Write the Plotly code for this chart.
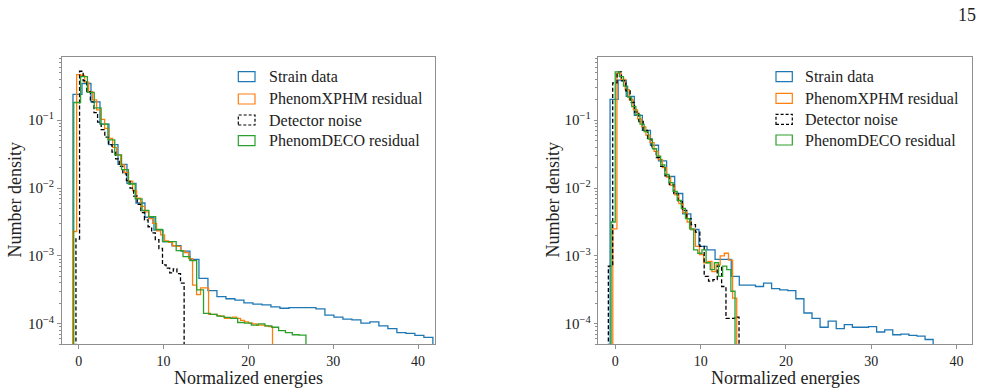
import numpy as np
import plotly.graph_objects as go

# ---------------- data (log10 of number density per bin) -------------
series_names = ["Strain data", "PhenomXPHM residual", "Detector noise", "PhenomDECO residual"]

# Left panel: (first bin edge, last bin edge) and per-bin log10 densities
left_strain_range = (-0.67, 41.75)
left_strain_log10 = [-0.62, -0.46, -0.73, -1.06, -1.36, -1.65, -1.93, -2.22, -2.43, -2.62,
                     -2.79, -2.85, -2.93, -3.05, -3.33, -3.51, -3.60, -3.63, -3.65, -3.69,
                     -3.71, -3.72, -3.75, -3.77, -3.76, -3.76, -3.76, -3.78, -3.87, -3.90,
                     -3.93, -3.94, -3.99, -3.97, -4.03, -4.07, -4.13, -4.14, -4.17, -4.20]
left_xphm_range = (-0.71, 22.85)
left_xphm_log10 = [-2.64, -0.33, -0.34, -0.44, -0.58, -0.70, -0.85, -0.99, -1.12, -1.27,
                   -1.40, -1.51, -1.66, -1.77, -1.90, -2.04, -2.15, -2.27, -2.35, -2.45,
                   -2.52, -2.63, -2.69, -2.78, -2.80, -2.85, -2.86, -2.92, -2.95, -3.04,
                   -3.43, -3.57, -3.47, -3.47, -3.86, -3.86, -3.88, -3.89, -3.92, -3.92,
                   -3.90, -3.92, -3.95, -3.97, -3.99, -4.00, -4.02, -4.02, -4.03, -4.04]
left_noise_range = (-0.32, 12.43)
left_noise_log10 = [-2.75, -0.28, -0.42, -0.58, -0.73, -0.89, -1.03, -1.14, -1.25, -1.36,
                    -1.47, -1.57, -1.68, -1.79, -1.89, -2.00, -2.12, -2.24, -2.36, -2.47,
                    -2.57, -2.66, -2.76, -2.89, -3.13, -3.18, -3.25, -3.19, -3.26, -3.40]
left_deco_range = (-0.58, 26.79)
left_deco_log10 = [-0.74, -0.36, -0.59, -0.82, -1.06, -1.29, -1.51, -1.73, -1.94, -2.16,
                   -2.33, -2.42, -2.61, -2.79, -2.79, -2.92, -3.01, -3.07, -3.50, -3.845,
                   -3.86, -3.885, -3.905, -3.92, -3.98, -3.99, -4.02, -4.00, -4.03, -4.05,
                   -4.10, -4.13, -4.16, -4.165]

# Right panel
right_strain_range = (-0.62, 37.26)
right_strain_log10 = [-0.695, -0.41, -0.65, -0.93, -1.15, -1.37, -1.60, -1.83, -2.08, -2.38,
                      -2.61, -2.86, -2.91, -3.05, -3.05, -3.30, -3.43, -3.43, -3.45, -3.40,
                      -3.48, -3.50, -3.51, -3.63, -3.84, -3.92, -4.05, -3.96, -4.07, -4.01,
                      -4.05, -4.05, -4.04, -4.12, -4.09, -4.16, -4.15, -4.17, -4.18, -4.23]
right_xphm_range = (-0.30, 14.23)
right_xphm_log10 = [-2.60, -0.31, -0.40, -0.55, -0.70, -0.85, -0.98, -1.10, -1.22, -1.33,
                    -1.46, -1.58, -1.70, -1.84, -1.96, -2.10, -2.23, -2.36, -2.50, -2.61,
                    -2.86, -2.98, -3.10, -3.08, -3.23, -3.13, -3.00, -2.96, -3.06, -3.62]
right_noise_range = (-0.82, 14.50)
right_noise_log10 = [-3.15, -0.45, -0.29, -0.42, -0.57, -0.74, -0.88, -1.02, -1.15, -1.28,
                     -1.42, -1.55, -1.68, -1.82, -1.95, -2.08, -2.20, -2.33, -2.45, -2.54,
                     -2.65, -2.86, -3.30, -3.37, -3.35, -3.15, -3.45, -3.92, -3.92, -3.90]
right_deco_range = (-0.50, 14.03)
right_deco_log10 = [-2.50, -0.29, -0.36, -0.50, -0.66, -0.80, -0.92, -1.06, -1.17, -1.28,
                    -1.42, -1.53, -1.66, -1.80, -1.92, -2.05, -2.18, -2.30, -2.45, -2.60,
                    -2.91, -2.96, -2.91, -3.10, -3.20, -3.10, -3.30, -3.15, -3.20, -3.52]

x_tick_values = [0, 10, 20, 30, 40]
y_tick_values = [1e-4, 1e-3, 1e-2, 1e-1]
y_tick_labels = ["10<sup>−4</sup>", "10<sup>−3</sup>", "10<sup>−2</sup>", "10<sup>−1</sup>"]
x_title = "Normalized energies"
y_title = "Number density"
page_number = "15"

# ---------------- styling ----------------
W, H = 982, 392
FONT = "Liberation Serif, DejaVu Serif, Times New Roman, serif"
colors = ["#1f77b4", "#ff7f0e", "#000000", "#2ca02c"]
dashes = ["solid", "solid", "4px,2.2px", "solid"]
SPINE = "#8f8f8f"
TXT = "#222222"
FLOOR = 1e-7  # histogram steps drop below the visible axis range


def px(x):
    return x / W


def py(y):
    return 1 - y / H


def step_xy(rng, logvals):
    edges = np.linspace(rng[0], rng[1], len(logvals) + 1)
    dens = [10 ** v for v in logvals]
    xs = [edges[0]] + list(edges[:-1]) + [edges[-1], edges[-1]]
    ys = [FLOOR] + dens + [dens[-1], FLOOR]
    return xs, ys


fig = go.Figure()

panels = [
    ("x", "y", [(left_strain_range, left_strain_log10), (left_xphm_range, left_xphm_log10),
                (left_noise_range, left_noise_log10), (left_deco_range, left_deco_log10)]),
    ("x2", "y2", [(right_strain_range, right_strain_log10), (right_xphm_range, right_xphm_log10),
                  (right_noise_range, right_noise_log10), (right_deco_range, right_deco_log10)]),
]

for xa, ya, series in panels:
    for i, (rng, vals) in enumerate(series):
        xs, ys = step_xy(rng, vals)
        fig.add_trace(go.Scatter(
            x=xs, y=ys, mode="lines", line_shape="hv",
            line=dict(color=colors[i], width=1.3, dash=dashes[i]),
            name=series_names[i], showlegend=False, xaxis=xa, yaxis=ya,
            hoverinfo="skip"))

# minor tick positions for log axis
minor_vals = [m * 10.0 ** k for k in range(-5, 0) for m in range(2, 10)]

xaxis_common = dict(
    range=[-2.0, 42.0], tickvals=x_tick_values, ticks="outside", ticklen=3.5, tickwidth=1,
    tickcolor=SPINE, showline=True, linecolor=SPINE, linewidth=1.2, mirror=True,
    showgrid=False, zeroline=False, tickfont=dict(family=FONT, size=14, color=TXT),
)
yaxis_common = dict(
    type="log", range=[-4.301, -0.07], tickvals=y_tick_values, ticktext=y_tick_labels,
    ticks="outside", ticklen=3.5, tickwidth=1, tickcolor=SPINE, showline=True,
    linecolor=SPINE, linewidth=1.2, mirror=True, showgrid=False, zeroline=False,
    tickfont=dict(family=FONT, size=15, color=TXT),
    minor=dict(tickmode="array", tickvals=minor_vals, ticks="outside", ticklen=2,
               tickwidth=0.8, tickcolor=SPINE, showgrid=False),
)

left_dom = [px(61.7), px(435.0)]
right_dom = [px(598.3), px(972.3)]
y_dom = [py(344.3), py(57.0)]

fig.update_layout(
    width=W, height=H, margin=dict(l=0, r=0, t=0, b=0),
    font=dict(family=FONT, size=15, color=TXT),
    paper_bgcolor="white", plot_bgcolor="white", showlegend=False,
    xaxis=dict(domain=left_dom, anchor="y", **xaxis_common),
    yaxis=dict(domain=y_dom, anchor="x", **yaxis_common),
    xaxis2=dict(domain=right_dom, anchor="y2", **xaxis_common),
    yaxis2=dict(domain=y_dom, anchor="x2", **yaxis_common),
)
fig.layout.xaxis2.range = [-2.0, 41.85]

annotations = []
shapes = []

# axis titles
for cx in [(61.7 + 435.0) / 2, (598.3 + 972.3) / 2]:
    annotations.append(dict(text=x_title, x=px(cx), y=py(378), xref="paper", yref="paper",
                            showarrow=False, xanchor="center", yanchor="middle",
                            font=dict(family=FONT, size=18, color=TXT)))
for cx in [14, 552]:
    annotations.append(dict(text=y_title, x=px(cx), y=py(200.5), xref="paper", yref="paper",
                            showarrow=False, textangle=-90, xanchor="center", yanchor="middle",
                            font=dict(family=FONT, size=18, color=TXT)))

# page number
annotations.append(dict(text=page_number, x=px(967), y=py(15), xref="paper", yref="paper",
                        showarrow=False, xanchor="center", yanchor="middle",
                        font=dict(family=FONT, size=18, color=TXT)))

# legends (outlined patches, as in the original)
legend_layout = [
    (238.3, 255.0, 266.7, [76.7, 99.0, 120.0, 140.7]),
    (776.0, 792.3, 803.3, [76.7, 98.3, 119.3, 140.0]),
]
for x0, x1, tx, ys in legend_layout:
    for i, yc in enumerate(ys):
        shapes.append(dict(type="rect", xref="paper", yref="paper",
                           x0=px(x0), x1=px(x1), y0=py(yc + 5), y1=py(yc - 5),
                           line=dict(color=colors[i], width=1.2,
                                     dash="3px,2px" if i == 2 else "solid"),
                           fillcolor="rgba(0,0,0,0)"))
        annotations.append(dict(text=series_names[i], x=px(tx), y=py(yc), xref="paper",
                                yref="paper", showarrow=False, xanchor="left",
                                yanchor="middle",
                                font=dict(family=FONT, size=16, color=TXT)))

fig.update_layout(annotations=annotations, shapes=shapes)

fig.write_html("out.html")
